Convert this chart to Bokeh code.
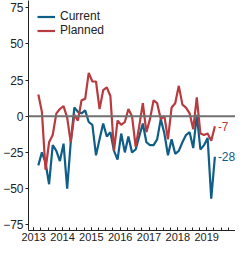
import pandas as pd
from bokeh.plotting import figure
from bokeh.models import FixedTicker, Span, ColumnDataSource, Legend, LegendItem, Range1d, Label
from bokeh.embed import file_html
from bokeh.resources import INLINE

# ---- data ----
start_date = "2013-03-01"
end_date = "2019-04-15"
current = [-34, -25, -32, -47, -20, -24, -31, -19, -50, -18,
           6, 3, 2, 4, -4, -6, -27,
           -16, -5, -14, -11, -24, -30, -12, -25, -14, -25,
           -23, -14, -5, -18, -20, -20, -16,
           -2, -12, -27, -16, -26, -24, -18, -13, -11, -22,
           1, -23, -20, -15, -57, -28]
planned = [15, 3, -37, -18, -13, 2, 5, 7, -1, -18,
           1, -3, 11, 12, 30, 24, 24,
           5, 18, 20, 14, -24, -3, -6, -4, 5, 0,
           -21, -7, 9, -11, -2, 11, 9,
           -2, 0, -16, 6, 9, 21, 8, 6, 2, -9,
           13, -12, -13, -12, -17, -7]
year_ticks = [2013, 2014, 2015, 2016, 2017, 2018, 2019]
y_ticks = [-75, -50, -25, 0, 25, 50, 75]

dates = pd.date_range(start_date, end_date, periods=len(current))
xs = [d.year + (d.dayofyear - 1) / 365.25 for d in dates]

BLUE = "#0f5e87"
RED = "#b83b3f"
FONT = "Liberation Sans"

p = figure(width=235, height=243, output_backend="svg", toolbar_location=None,
           x_range=Range1d(2012.82, 2020.0), y_range=Range1d(-79, 80),
           min_border_left=0, min_border_right=0, min_border_top=0, min_border_bottom=0)
p.outline_line_color = None
p.xgrid.visible = False
p.ygrid.visible = False

zero = Span(location=0, dimension="width", line_color="#707070", line_width=2)
p.add_layout(zero)

src = ColumnDataSource(dict(x=xs, cur=current, pla=planned))
r_cur = p.line("x", "cur", source=src, line_color=BLUE, line_width=2.2)
r_pla = p.line("x", "pla", source=src, line_color=RED, line_width=2.2)

for val, col in ((planned[-1], RED), (current[-1], BLUE)):
    p.add_layout(Label(x=xs[-1], y=val, text=str(val), text_color=col,
                       text_font=FONT, text_font_size="12px", text_baseline="middle",
                       text_align="left", x_offset=3))

minor = [y + q / 4 for y in range(2012, 2020) for q in range(4)]
p.xaxis.ticker = FixedTicker(ticks=year_ticks, minor_ticks=[m for m in minor if 2012.8 <= m <= 2019.75])
p.yaxis.ticker = FixedTicker(ticks=y_ticks, minor_ticks=[])

for ax in (p.xaxis, p.yaxis):
    ax.major_label_text_font = FONT
    ax.major_label_text_font_size = "12px"
    ax.major_label_text_color = "#222222"
    ax.axis_line_color = "#222222"
    ax.major_tick_line_color = "#222222"
    ax.minor_tick_line_color = "#222222"
p.xaxis.major_label_text_font_size = "11px"
p.xaxis.major_tick_in = 3
p.xaxis.major_tick_out = 0
p.xaxis.minor_tick_in = 3
p.xaxis.minor_tick_out = 0
p.xaxis.major_label_standoff = 2
p.yaxis.major_tick_in = 0
p.yaxis.major_tick_out = 3
p.yaxis.major_label_standoff = 2

legend = Legend(items=[LegendItem(label="Current", renderers=[r_cur]),
                       LegendItem(label="Planned", renderers=[r_pla])],
                location="top_left")
legend.label_text_font = FONT
legend.label_text_font_size = "12px"
legend.label_text_color = "#222222"
legend.label_height = 11
legend.glyph_height = 11
legend.glyph_width = 18
legend.spacing = 0
legend.padding = 2
legend.margin = 9
legend.label_standoff = 5
legend.border_line_color = None
legend.background_fill_alpha = 0
p.add_layout(legend)

open("out.html", "w").write(file_html(p, INLINE))
